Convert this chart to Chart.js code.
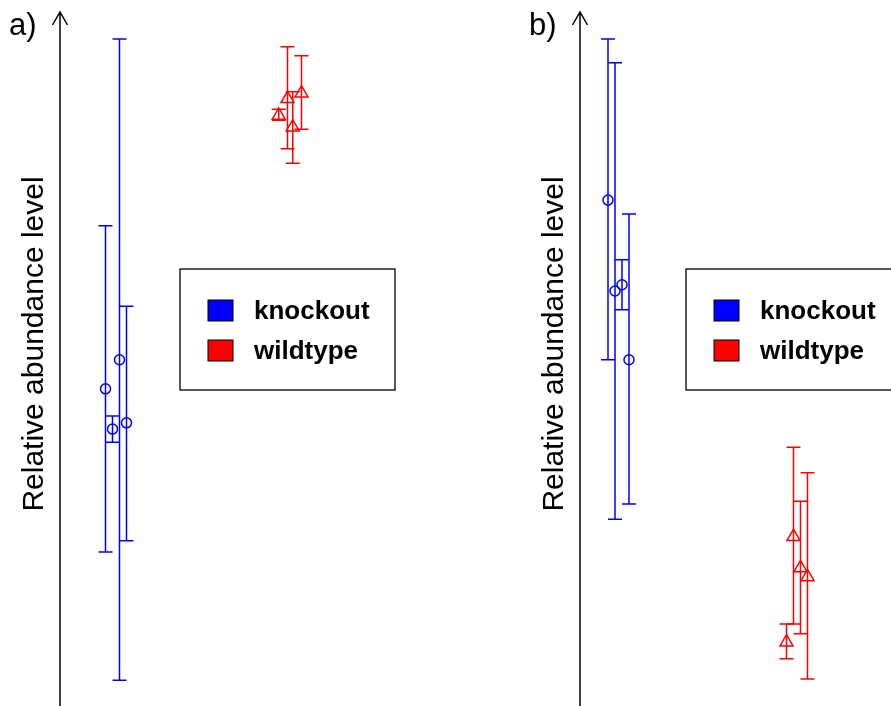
<!DOCTYPE html>
<html>
<head>
<meta charset="utf-8">
<script src="https://cdn.jsdelivr.net/npm/chart.js@4.4.1/dist/chart.umd.min.js"></script>
<style>
  html, body { margin: 0; padding: 0; background: #fff; overflow: hidden; }
  .panel { position: absolute; top: 0; width: 520px; height: 706px; }
  #wrapA { left: 0; }
  #wrapB { left: 520px; }
</style>
</head>
<body>
<div class="panel" id="wrapA"><canvas id="chartA"></canvas></div>
<div class="panel" id="wrapB"><canvas id="chartB"></canvas></div>
<script>
const groups = ["knockout", "wildtype"];
const groupColors = ["#0000ff", "#ff0000"];
const yLabel = "Relative abundance level";

// panel a) - mean, lower and upper end of each error bar
const aKnockX = [0.26, 0.30, 0.34, 0.38];
const aKnockY = [45.7, 39.9, 49.9, 40.8];
const aKnockLo = [22.2, 38.0, 3.7, 23.8];
const aKnockHi = [69.2, 41.8, 96.1, 57.6];

const aWildX = [1.25, 1.30, 1.33, 1.38];
const aWildY = [85.1, 87.5, 83.4, 88.3];
const aWildLo = [84.4, 80.3, 78.2, 83.1];
const aWildHi = [86.0, 95.0, 88.5, 93.7];

// panel b)
const bKnockX = [0.16, 0.20, 0.24, 0.28];
const bKnockY = [72.9, 59.8, 60.7, 49.9];
const bKnockLo = [49.9, 26.9, 57.1, 29.1];
const bKnockHi = [96.1, 92.7, 64.3, 70.9];

const bWildX = [1.18, 1.22, 1.26, 1.30];
const bWildY = [9.2, 24.4, 19.9, 18.6];
const bWildLo = [6.8, 11.8, 10.4, 3.9];
const bWildHi = [11.8, 37.3, 29.5, 33.6];

const FONT = "'Liberation Sans', Arial, Helvetica, sans-serif";

const toPoints = (xs, ys, lo, hi) => xs.map((x, i) => ({ x: x, y: ys[i], lo: lo[i], hi: hi[i] }));

// error bars, axis with arrow, labels and the boxed legend
const panelDecor = {
    id: 'panelDecor',
    beforeDatasetsDraw(chart) {
        const { ctx, scales: { x, y } } = chart;
        chart.data.datasets.forEach(ds => {
            ctx.save();
            ctx.strokeStyle = ds.borderColor;
            ctx.lineWidth = 1.5;
            ds.data.forEach(p => {
                const px = x.getPixelForValue(p.x);
                const top = y.getPixelForValue(p.hi);
                const bot = y.getPixelForValue(p.lo);
                ctx.beginPath();
                ctx.moveTo(px, top);
                ctx.lineTo(px, bot);
                ctx.moveTo(px - 7, top);
                ctx.lineTo(px + 7, top);
                ctx.moveTo(px - 7, bot);
                ctx.lineTo(px + 7, bot);
                ctx.stroke();
            });
            ctx.restore();
        });
    },
    afterDraw(chart, args, opts) {
        const { ctx, chartArea } = chart;
        const left = chartArea.left;
        ctx.save();

        // y axis line with arrow head
        ctx.strokeStyle = '#000';
        ctx.lineWidth = 1.5;
        ctx.beginPath();
        ctx.moveTo(left, chart.height);
        ctx.lineTo(left, chartArea.top);
        ctx.moveTo(left - 7.5, chartArea.top + 13);
        ctx.lineTo(left, chartArea.top);
        ctx.lineTo(left + 7.5, chartArea.top + 13);
        ctx.stroke();

        // panel letter
        ctx.fillStyle = '#000';
        ctx.font = '31px ' + FONT;
        ctx.textBaseline = 'alphabetic';
        ctx.textAlign = 'left';
        ctx.fillText(opts.letter, 9, 35);

        // y axis title
        ctx.save();
        ctx.translate(43, 344);
        ctx.rotate(-Math.PI / 2);
        ctx.textAlign = 'center';
        ctx.font = '30px ' + FONT;
        ctx.fillText(yLabel, 0, 0);
        ctx.restore();

        // legend
        const lx = opts.legendX, ly = 269;
        ctx.fillStyle = '#fff';
        ctx.fillRect(lx, ly, 215, 121);
        ctx.strokeStyle = '#000';
        ctx.lineWidth = 1.3;
        ctx.strokeRect(lx, ly, 215, 121);
        ctx.font = 'bold 26px ' + FONT;
        chart.data.datasets.forEach((ds, i) => {
            const sy = ly + 31 + i * 40;
            ctx.fillStyle = ds.borderColor;
            ctx.fillRect(lx + 28, sy, 25, 21);
            ctx.strokeStyle = '#000';
            ctx.lineWidth = 1;
            ctx.strokeRect(lx + 28, sy, 25, 21);
            ctx.fillStyle = '#000';
            ctx.fillText(ds.label, lx + 74, sy + 19);
        });
        ctx.restore();
    }
};

const makeOptions = (letter, legendX) => ({
    responsive: true,
    maintainAspectRatio: false,
    animation: { duration: 0 },
    layout: { autoPadding: false, padding: { left: 60, right: 5, top: 12, bottom: 0 } },
    scales: {
        x: { type: 'linear', min: 0, max: 2.6, display: false },
        y: { type: 'linear', min: 0, max: 100, display: false }
    },
    plugins: {
        legend: { display: false },
        tooltip: { enabled: false },
        panelDecor: { letter: letter, legendX: legendX }
    }
});

const makeDatasets = (kx, ky, klo, khi, wx, wy, wlo, whi) => [
    {
        label: groups[0],
        data: toPoints(kx, ky, klo, khi),
        borderColor: groupColors[0],
        backgroundColor: 'rgba(0,0,0,0)',
        pointStyle: 'circle',
        pointRadius: 5,
        pointBorderWidth: 1.5,
        showLine: false
    },
    {
        label: groups[1],
        data: toPoints(wx, wy, wlo, whi),
        borderColor: groupColors[1],
        backgroundColor: 'rgba(0,0,0,0)',
        pointStyle: 'triangle',
        pointRadius: 7.5,
        pointBorderWidth: 1.5,
        showLine: false
    }
];

let chartA = new Chart(document.getElementById('chartA'), {
    type: 'scatter',
    data: { datasets: makeDatasets(aKnockX, aKnockY, aKnockLo, aKnockHi, aWildX, aWildY, aWildLo, aWildHi) },
    options: makeOptions('a)', 180),
    plugins: [panelDecor]
});

let chartB = new Chart(document.getElementById('chartB'), {
    type: 'scatter',
    data: { datasets: makeDatasets(bKnockX, bKnockY, bKnockLo, bKnockHi, bWildX, bWildY, bWildLo, bWildHi) },
    options: makeOptions('b)', 166),
    plugins: [panelDecor]
});
</script>
</body>
</html>
